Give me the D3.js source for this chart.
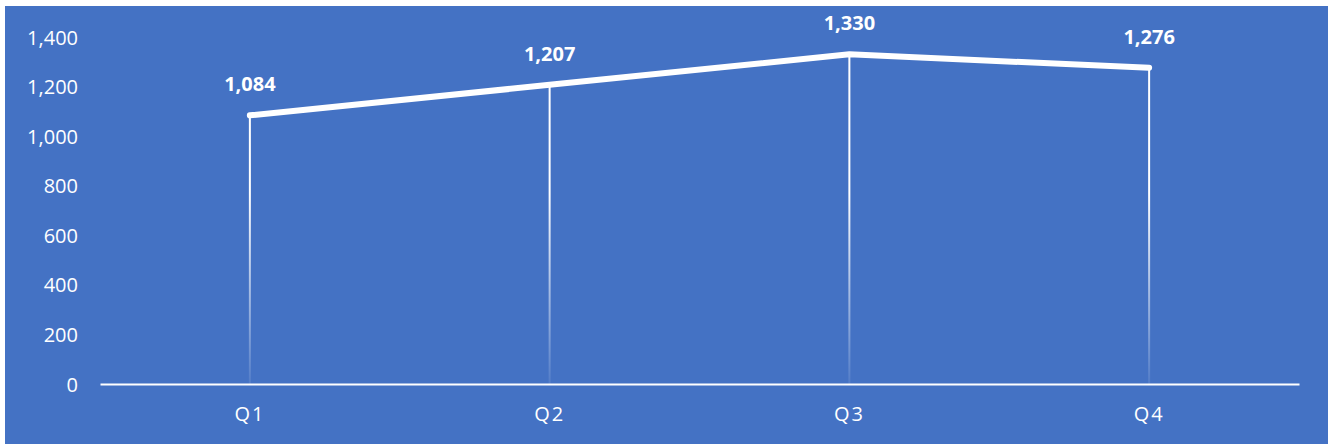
<!DOCTYPE html>
<html>
<head>
<meta charset="utf-8">
<script src="https://cdn.jsdelivr.net/npm/d3@7"></script>
<style>
  html, body { margin: 0; padding: 0; background: #ffffff; }
  svg { display: block; }
</style>
</head>
<body>
<svg id="chart" width="1328" height="444"></svg>
<script>
// Quarterly values
const categories = ["Q1", "Q2", "Q3", "Q4"];
const values = [1084, 1207, 1330, 1276];
const yTicks = [0, 200, 400, 600, 800, 1000, 1200, 1400];

const W = 1328, H = 444;
const svg = d3.select("#chart");
const font = "'Open Sans', 'Liberation Sans', sans-serif";

// Chart area background
svg.append("rect")
  .attr("x", 5).attr("y", 6)
  .attr("width", W - 5).attr("height", H - 6)
  .attr("fill", "#4472C4");

const plot = { left: 100, right: 1299, top: 37, bottom: 384 };

const x = d3.scaleBand()
  .domain(categories)
  .range([plot.left, plot.right]);

const y = d3.scaleLinear()
  .domain([0, 1400])
  .range([plot.bottom, plot.top]);

const cx = d => x(d) + x.bandwidth() / 2;

// Fading gradient for the drop lines
const defs = svg.append("defs");
const grad = defs.append("linearGradient")
  .attr("id", "dropFade")
  .attr("gradientUnits", "userSpaceOnUse")
  .attr("x1", 0).attr("y1", plot.top)
  .attr("x2", 0).attr("y2", plot.bottom);
grad.append("stop").attr("offset", "0.45").attr("stop-color", "#ffffff").attr("stop-opacity", 1);
grad.append("stop").attr("offset", "1").attr("stop-color", "#ffffff").attr("stop-opacity", 0.08);

// Y axis labels
const yAxis = d3.axisLeft(y)
  .tickValues(yTicks)
  .tickSize(0)
  .tickPadding(0)
  .tickFormat(d3.format(","));
const yg = svg.append("g")
  .attr("transform", `translate(78,0)`)
  .call(yAxis);
yg.select(".domain").remove();
yg.selectAll("text")
  .attr("fill", "#ffffff")
  .attr("font-family", font)
  .attr("font-size", 20)
  .attr("dy", "0.35em");

// Drop lines from each point down to the axis
svg.append("g").selectAll("line")
  .data(categories)
  .join("line")
  .attr("x1", d => cx(d)).attr("x2", d => cx(d))
  .attr("y1", (d, i) => y(values[i]))
  .attr("y2", plot.bottom)
  .attr("stroke", "url(#dropFade)")
  .attr("stroke-width", 2);

// X axis
const xAxis = d3.axisBottom(x).tickSize(0).tickPadding(0);
const xg = svg.append("g")
  .attr("transform", `translate(0,${plot.bottom})`)
  .call(xAxis);
xg.select(".domain")
  .attr("stroke", "#ffffff")
  .attr("stroke-width", 2);
xg.selectAll("text")
  .attr("fill", "#ffffff")
  .attr("font-family", font)
  .attr("font-size", 20)
  .attr("letter-spacing", 2)
  .attr("y", 30)
  .attr("dy", "0.35em");

// Line series
const line = d3.line()
  .x((d, i) => cx(categories[i]))
  .y(d => y(d));
svg.append("path")
  .datum(values)
  .attr("d", line)
  .attr("fill", "none")
  .attr("stroke", "#ffffff")
  .attr("stroke-width", 6)
  .attr("stroke-linecap", "round")
  .attr("stroke-linejoin", "round");

// Value labels
svg.append("g").selectAll("text")
  .data(values)
  .join("text")
  .attr("x", (d, i) => cx(categories[i]))
  .attr("y", d => y(d) - 24)
  .attr("text-anchor", "middle")
  .attr("fill", "#ffffff")
  .attr("font-family", font)
  .attr("font-size", 20)
  .attr("font-weight", "bold")
  .text(d => d3.format(",")(d));
</script>
</body>
</html>
